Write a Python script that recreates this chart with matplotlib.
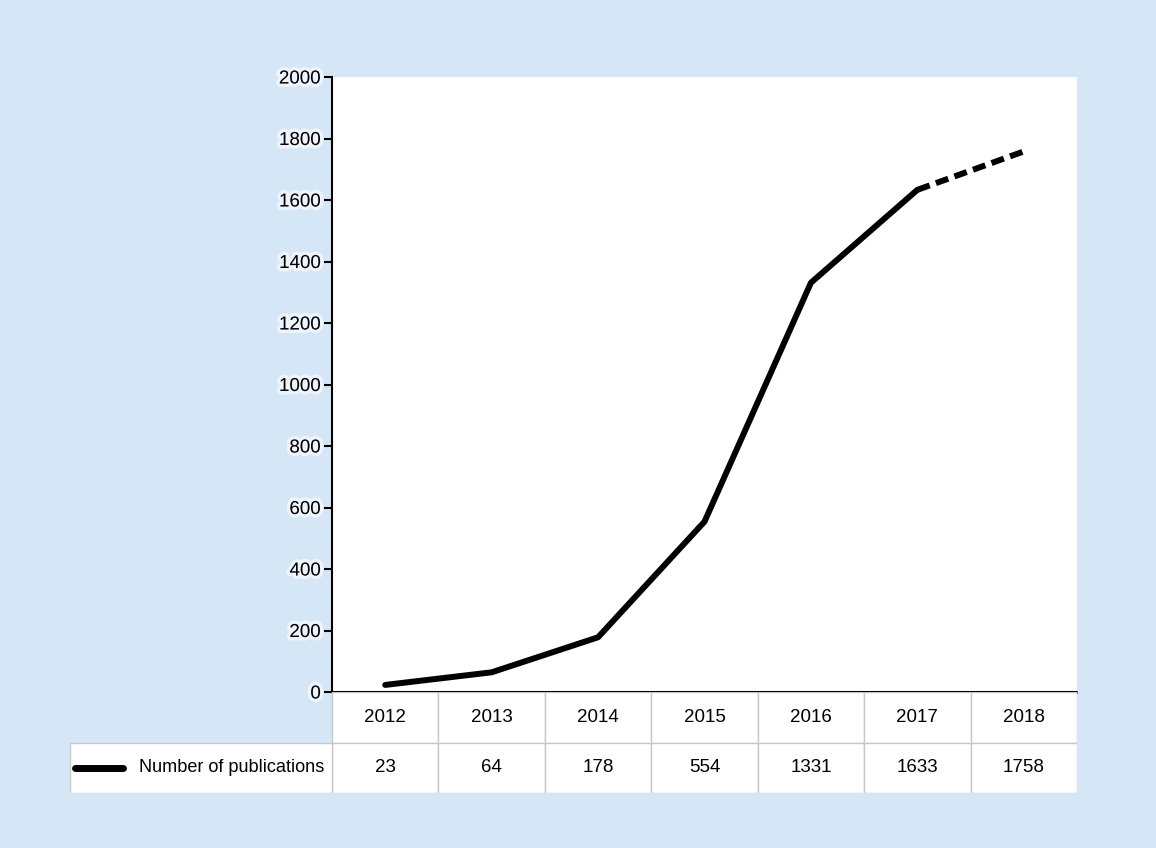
import matplotlib.pyplot as plt
import matplotlib.patheffects as pe
from matplotlib.patches import Rectangle

# data
years = [2012, 2013, 2014, 2015, 2016, 2017, 2018]
pubs = [23, 64, 178, 554, 1331, 1633, 1758]
series_label = "Number of publications"

BG = "#d5e6f6"
GRID = "#c8c8c8"
plt.rcParams['font.family'] = ['Liberation Sans', 'DejaVu Sans']

fig = plt.figure(figsize=(11.56, 8.48), dpi=100, facecolor=BG)
ax = fig.add_axes([332 / 1156, 1 - 692 / 848, 745 / 1156, 615 / 848])

x = list(range(len(years)))
ax.plot(x[:6], pubs[:6], color="black", lw=4.3,
        solid_capstyle="round", solid_joinstyle="round", zorder=3)
ax.plot(x[5:], pubs[5:], color="black", lw=4.3, dashes=(2.2, 1.1),
        dash_capstyle="butt", zorder=3)

ax.set_xlim(-0.5, len(years) - 0.5)
ax.set_ylim(0, 2000)
ax.set_yticks(range(0, 2001, 200))
ax.set_xticks([])
for s in ["top", "right"]:
    ax.spines[s].set_visible(False)
ax.spines["left"].set_linewidth(1.5)
ax.spines["bottom"].set_linewidth(2.2)
ax.spines["bottom"].set_capstyle("butt")
ax.tick_params(axis="y", length=6, width=1.5, pad=2, labelsize=13.5)
for t in ax.get_yticklabels():
    t.set_path_effects([pe.withStroke(linewidth=5, foreground="white", alpha=0.6)])

# table under the axis, columns aligned with the years
left_w = (332 - 70) / (745 / len(years))
tab = fig.add_axes([70 / 1156, 1 - 793 / 848, (1077 - 70) / 1156, 101 / 848])
tab.set_xlim(-0.5 - left_w, len(years) - 0.5)
tab.set_ylim(0, 2)
tab.axis("off")

for i, (yr, v) in enumerate(zip(years, pubs)):
    tab.add_patch(Rectangle((i - 0.5, 1), 1, 1, fc="white", ec=GRID, lw=1, zorder=1))
    tab.add_patch(Rectangle((i - 0.5, 0), 1, 1, fc="white", ec=GRID, lw=1, zorder=1))
    tab.text(i, 1.5, str(yr), ha="center", va="center", fontsize=13.5, zorder=2)
    tab.text(i, 0.5, str(v), ha="center", va="center", fontsize=13.5, zorder=2)

tab.add_patch(Rectangle((-0.5 - left_w, 0), left_w, 1, fc="white", ec=GRID, lw=1, zorder=1))
tab.plot([-0.5 - left_w + 0.05, -0.5 - left_w + 0.5], [0.5, 0.5], color="black",
         lw=5, solid_capstyle="round", zorder=2)
tab.text(-0.5 - left_w + 0.65, 0.5, series_label, ha="left", va="center",
         fontsize=13.1, zorder=2)

fig.savefig("out.png", dpi=100, facecolor=BG)
